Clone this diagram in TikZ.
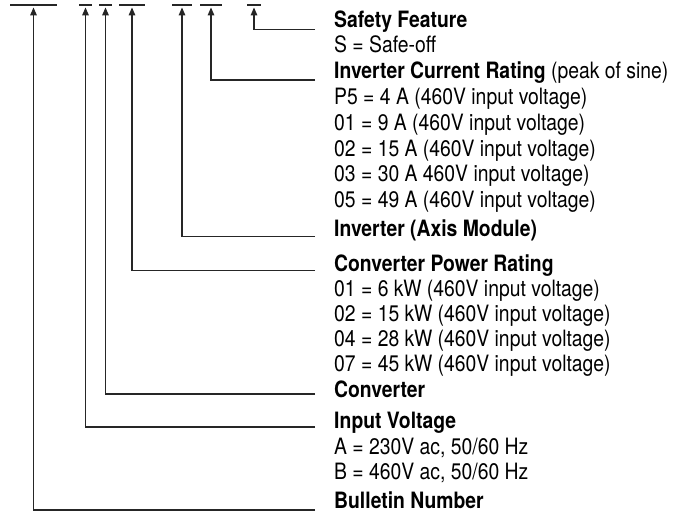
\documentclass[tikz,border=0pt]{standalone}
\usepackage{fontspec}
\setmainfont{TeX Gyre Heros}[FakeStretch=0.86]
\usetikzlibrary{arrows.meta}
\begin{document}
\begin{tikzpicture}[x=1pt,y=-1pt,
  txt/.style={anchor=base west,inner sep=0pt,font=\fontsize{22.5}{25}\selectfont},
  hd/.style={txt,font=\fontsize{22.5}{25}\selectfont\bfseries},
  bar/.style={inner sep=0pt,minimum height=1.4pt,fill=black!85,draw=none},
  conn/.style={draw=black!85,line width=1.3pt,-{Triangle[length=8pt,width=6.5pt]},shorten >=1.5pt}]
\useasboundingbox (0,0) rectangle (679,512);
% code bars
\node[bar,minimum width=47pt] (b1) at (33.5,5) {};
\node[bar,minimum width=13pt] (b2) at (85.5,5) {};
\node[bar,minimum width=13pt] (b3) at (105.5,5) {};
\node[bar,minimum width=26pt] (b4) at (132,5) {};
\node[bar,minimum width=20pt] (b5) at (182,5) {};
\node[bar,minimum width=22pt] (b6) at (211,5) {};
\node[bar,minimum width=14pt] (b7) at (254,5) {};
% texts
\node[hd] (tSafe) at (334,27) {Safety Feature};
\node[txt] (tS) at (334,52) {S = Safe-off};
\node[hd] (tInvC) at (334,78) {Inverter Current Rating \mdseries(peak of sine)};
\node[txt] (tP5) at (334,104) {P5 = 4 A (460V input voltage)};
\node[txt] (tI01) at (334,130) {01 = 9 A (460V input voltage)};
\node[txt] (tI02) at (334,156) {02 = 15 A (460V input voltage)};
\node[txt] (tI03) at (334,181.5) {03 = 30 A 460V input voltage)};
\node[txt] (tI05) at (334,207) {05 = 49 A (460V input voltage)};
\node[hd] (tInvA) at (334,236) {Inverter (Axis Module)};
\node[hd] (tConvP) at (334,271) {Converter Power Rating};
\node[txt] (tC01) at (334,296) {01 = 6 kW (460V input voltage)};
\node[txt] (tC02) at (334,321) {02 = 15 kW (460V input voltage)};
\node[txt] (tC04) at (334,346) {04 = 28 kW (460V input voltage)};
\node[txt] (tC07) at (334,371) {07 = 45 kW (460V input voltage)};
\node[hd] (tConv) at (334,397) {Converter};
\node[hd] (tInV) at (334,428) {Input Voltage};
\node[txt] (tA) at (334,454) {A = 230V ac, 50/60 Hz};
\node[txt] (tB) at (334,479) {B = 460V ac, 50/60 Hz};
\node[hd] (tBul) at (334,508) {Bulletin Number};
% connector ends
\coordinate (e7) at (315,29.3);
\coordinate (e6) at (315,80);
\coordinate (e5) at (315,236.7);
\coordinate (e4) at (315,270.7);
\coordinate (e3) at (315,394);
\coordinate (e2) at (315,427);
\coordinate (e1) at (315,510);
% connectors
\draw[conn] (e7) -| (b7.south);
\draw[conn] (e6) -| (b6.south);
\draw[conn] (e5) -| (b5.south);
\draw[conn] (e4) -| (b4.south);
\draw[conn] (e3) -| (b3.south);
\draw[conn] (e2) -| (b2.south);
\draw[conn] (e1) -| (b1.south);
\end{tikzpicture}
\end{document}
